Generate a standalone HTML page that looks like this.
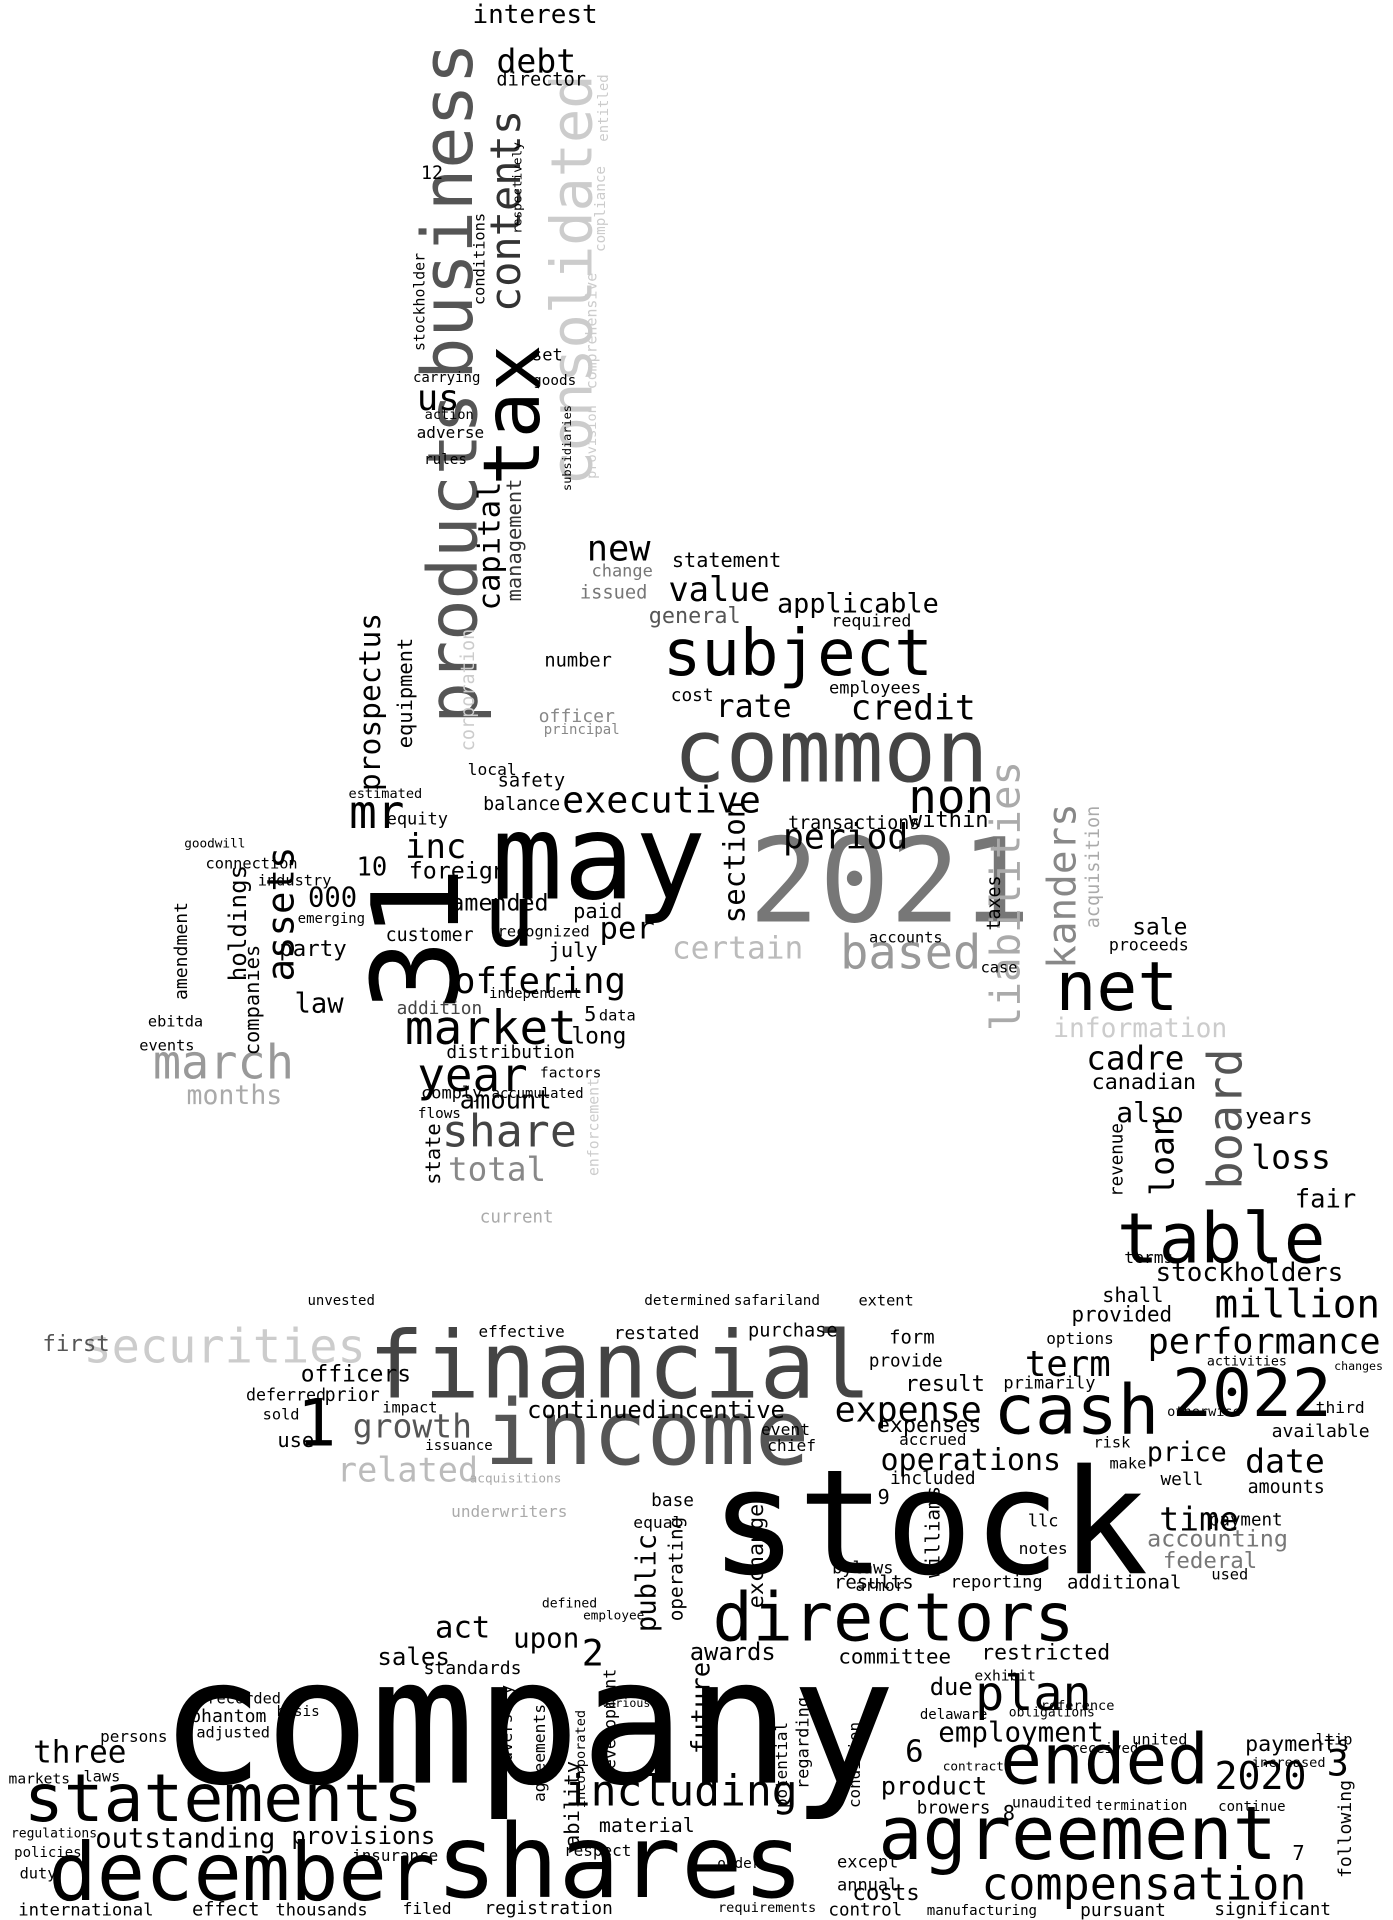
<!DOCTYPE html>
<html><head><meta charset="utf-8">
<style>
html,body{margin:0;padding:0;background:#fff;}
#cloud{position:relative;width:1393px;height:1920px;overflow:hidden;background:#fff;font-family:"DejaVu Sans Mono","Liberation Mono",monospace;}
#cloud span{position:absolute;white-space:nowrap;line-height:1;transform-origin:center center;}
</style></head>
<body>
<div id="cloud"></div>
<script>
// word, center x, center y, text length (px, display scale), color, vertical(1)
const words = [
["company",430,1405,600,"#000",0],
["stock",757,1242,357,"#000",0],
["shares",505,1518,300,"#000",0],
["agreement",878,1495,325,"#000",0],
["december",197,1525,315,"#000",0],
["statements",182,1465,325,"#000",0],
["financial",505,1113,410,"#444",0],
["income",527,1168,265,"#555",0],
["directors",728,1318,295,"#000",0],
["ended",900,1435,170,"#000",0],
["compensation",932,1535,265,"#000",0],
["including",555,1460,190,"#000",0],
["cash",877,1150,135,"#000",0],
["2022",1020,1135,130,"#000",0],
["table",995,1010,170,"#000",0],
["million",1057,1063,135,"#000",0],
["performance",1030,1093,190,"#000",0],
["net",910,805,100,"#000",0],
["2021",725,718,230,"#777",0],
["may",488,700,175,"#000",0],
["31",340,765,118,"#000",1],
["u",415,748,42,"#000",0],
["common",677,613,257,"#444",0],
["subject",650,533,220,"#000",0],
["consolidated",467,228,335,"#ccc",1],
["business",365,172,275,"#555",1],
["products",370,455,270,"#555",1],
["tax",418,338,115,"#000",1],
["contents",412,172,165,"#333",1],
["capital",400,445,105,"#000",1],
["management",419,440,100,"#333",1],
["debt",437,50,65,"#000",0],
["interest",436,12,102,"#000",0],
["director",441,66,73,"#000",0],
["us",357,325,35,"#000",0],
["prospectus",302,572,145,"#000",1],
["equipment",330,565,90,"#000",1],
["mr",307,662,45,"#000",0],
["inc",355,690,50,"#000",0],
["000",271,732,40,"#000",0],
["assets",229,745,110,"#000",1],
["holdings",194,752,95,"#000",1],
["march",182,867,115,"#999",0],
["months",191,893,78,"#aaa",0],
["market",400,838,140,"#000",0],
["year",385,877,90,"#000",0],
["share",415,922,110,"#444",0],
["total",405,953,80,"#888",0],
["offering",440,800,140,"#000",0],
["executive",539,653,162,"#000",0],
["period",689,683,102,"#000",0],
["non",775,650,70,"#000",0],
["certain",601,773,107,"#bbb",0],
["based",742,777,115,"#999",0],
["liabilities",820,730,220,"#aaa",1],
["kanders",866,722,135,"#888",1],
["value",586,481,83,"#000",0],
["new",504,447,52,"#000",0],
["statement",592,456,89,"#000",0],
["applicable",699,493,132,"#000",0],
["rate",614,577,62,"#000",0],
["credit",744,578,102,"#000",0],
["information",929,838,142,"#ccc",0],
["cadre",925,863,80,"#000",0],
["board",1000,912,115,"#555",1],
["also",937,907,55,"#000",0],
["loan",947,942,65,"#000",1],
["loss",1052,943,65,"#000",0],
["canadian",932,882,85,"#000",0],
["years",1042,910,55,"#000",0],
["fair",1080,978,50,"#000",0],
["stockholders",1018,1037,153,"#000",0],
["term",870,1112,70,"#000",0],
["price",967,1184,65,"#000",0],
["date",1047,1190,65,"#000",0],
["time",977,1238,65,"#000",0],
["operations",791,1190,147,"#000",0],
["expense",740,1150,120,"#000",0],
["growth",336,1162,97,"#555",0],
["related",332,1198,115,"#bbb",0],
["securities",183,1098,230,"#ccc",0],
["first",62,1095,55,"#555",0],
["1",258,1160,32,"#000",0],
["officers",290,1120,90,"#000",0],
["plan",842,1380,95,"#000",0],
["employment",832,1412,135,"#000",0],
["committee",729,1350,92,"#000",0],
["restricted",852,1347,105,"#000",0],
["public",527,1290,80,"#000",1],
["operating",551,1278,85,"#000",1],
["future",572,1392,75,"#000",1],
["act",377,1327,45,"#000",0],
["upon",445,1335,54,"#000",0],
["sales",337,1350,59,"#000",0],
["three",65,1428,76,"#000",0],
["outstanding",151,1498,147,"#000",0],
["provisions",296,1497,117,"#000",0],
["material",527,1488,78,"#000",0],
["costs",722,1542,55,"#000",0],
["product",761,1455,87,"#000",0],
["2020",1027,1448,75,"#000",0],
["payments",1057,1422,85,"#000",0],
["results",712,1290,65,"#000",0],
["additional",916,1290,93,"#000",0],
["accounting",992,1254,115,"#777",0],
["federal",986,1272,77,"#777",0],
["amounts",1048,1212,63,"#000",0],
["international",70,1557,110,"#000",0],
["thousands",262,1557,75,"#000",0],
["registration",447,1555,105,"#000",0],
["requirements",625,1555,80,"#000",0],
["manufacturing",800,1557,90,"#000",0],
["pursuant",915,1557,70,"#000",0],
["significant",1037,1557,95,"#000",0],
["following",1097,1490,80,"#000",1],
["effective",425,1085,70,"#000",0],
["restated",535,1087,70,"#000",0],
["purchase",646,1085,73,"#000",0],
["form",743,1090,37,"#000",0],
["continued",482,1150,105,"#000",0],
["incentive",587,1150,105,"#000",0],
["options",880,1091,55,"#000",0],
["provided",914,1071,82,"#000",0],
["shall",923,1055,50,"#000",0],
["result",770,1128,65,"#000",0],
["provide",738,1110,60,"#000",0],
["expenses",757,1162,85,"#000",0],
["primarily",855,1128,75,"#000",0],
["included",760,1205,70,"#000",0],
["amount",412,897,75,"#000",0],
["distribution",416,858,105,"#000",0],
["foreign",373,710,80,"#000",0],
["amended",407,736,80,"#000",0],
["customer",350,763,72,"#000",0],
["addition",358,822,70,"#444",0],
["equity",340,668,50,"#000",0],
["balance",425,656,63,"#000",0],
["safety",433,637,55,"#000",0],
["local",401,627,40,"#000",0],
["estimated",314,648,60,"#000",0],
["law",260,818,40,"#000",0],
["party",255,773,55,"#000",0],
["industry",240,718,60,"#000",0],
["emerging",270,749,55,"#000",0],
["companies",205,815,90,"#000",1],
["goodwill",175,688,50,"#000",0],
["connection",205,704,75,"#000",0],
["amendment",148,775,80,"#000",1],
["long",488,845,45,"#000",0],
["5",481,826,10,"#000",0],
["data",503,828,30,"#000",0],
["paid",487,742,40,"#000",0],
["per",511,758,45,"#000",0],
["july",467,774,40,"#000",0],
["recognized",443,759,75,"#000",0],
["number",471,539,55,"#000",0],
["officer",470,584,62,"#888",0],
["principal",474,595,62,"#888",0],
["issued",500,484,55,"#777",0],
["change",507,466,50,"#777",0],
["general",566,503,75,"#555",0],
["required",710,507,65,"#000",0],
["employees",713,561,75,"#000",0],
["cost",564,567,35,"#000",0],
["section",599,702,100,"#000",1],
["transactions",696,671,108,"#000",0],
["within",773,668,65,"#000",0],
["sale",945,756,45,"#000",0],
["proceeds",936,771,65,"#000",0],
["acquisition",891,706,100,"#aaa",1],
["taxes",811,736,45,"#000",1],
["accounts",738,764,60,"#000",0],
["case",814,789,30,"#000",0],
["revenue",911,945,60,"#000",1],
["terms",936,1025,40,"#000",0],
["exchange",617,1268,85,"#000",1],
["williams",760,1248,75,"#000",1],
["llc",850,1240,25,"#000",0],
["notes",850,1262,40,"#000",0],
["reporting",812,1290,75,"#000",0],
["due",775,1375,35,"#000",0],
["awards",597,1347,70,"#000",0],
["standards",385,1360,80,"#000",0],
["2",483,1348,18,"#000",0],
["incorporated",474,1433,80,"#000",1],
["agreements",440,1428,80,"#000",1],
["adversely",413,1408,70,"#000",1],
["ability",466,1470,70,"#000",1],
["phantom",186,1399,62,"#000",0],
["recorded",199,1384,60,"#000",0],
["adjusted",190,1412,60,"#000",0],
["basis",243,1395,35,"#000",0],
["persons",109,1415,55,"#000",0],
["markets",32,1450,50,"#000",0],
["laws",83,1448,30,"#000",0],
["regulations",44,1494,70,"#000",0],
["policies",39,1510,55,"#000",0],
["duty",31,1527,30,"#000",0],
["effect",184,1557,55,"#000",0],
["filed",348,1555,40,"#000",0],
["insurance",322,1512,70,"#000",0],
["respect",487,1508,55,"#000",0],
["development",497,1405,90,"#000",1],
["various",510,1388,40,"#000",0],
["potential",637,1438,70,"#000",1],
["regarding",655,1420,75,"#000",1],
["condition",697,1438,70,"#000",1],
["exhibit",819,1366,50,"#000",0],
["reference",878,1391,60,"#000",0],
["obligations",857,1396,70,"#000",0],
["delaware",777,1397,55,"#000",0],
["received",900,1425,55,"#000",0],
["united",945,1418,45,"#000",0],
["ltip",1087,1418,30,"#000",0],
["3",1090,1437,18,"#000",0],
["increased",1050,1437,60,"#000",0],
["unaudited",857,1470,65,"#000",0],
["browers",777,1474,60,"#000",0],
["termination",930,1472,75,"#000",0],
["continue",1020,1472,55,"#000",0],
["contract",793,1440,50,"#000",0],
["except",707,1518,50,"#000",0],
["annual",707,1537,50,"#000",0],
["control",705,1557,60,"#000",0],
["order",602,1519,35,"#000",0],
["employee",500,1317,50,"#000",0],
["defined",464,1307,45,"#000",0],
["6",745,1428,15,"#000",0],
["7",1058,1510,10,"#000",0],
["8",822,1477,10,"#000",0],
["9",720,1220,10,"#000",0],
["10",303,707,25,"#000",0],
["stockholder",343,246,80,"#000",1],
["conditions",391,211,75,"#000",1],
["respectively",422,153,75,"#000",1],
["carrying",364,308,55,"#000",0],
["goods",452,310,35,"#000",0],
["set",446,290,25,"#000",0],
["action",366,339,40,"#000",0],
["adverse",367,353,55,"#000",0],
["rules",363,375,35,"#000",0],
["12",352,142,18,"#000",0],
["compliance",490,170,70,"#ccc",1],
["comprehensive",482,270,95,"#ccc",1],
["provision",483,360,60,"#ccc",1],
["subsidiaries",463,365,70,"#000",1],
["corporation",382,562,100,"#ccc",1],
["entitled",492,88,55,"#ccc",1],
["enforcement",485,918,80,"#ccc",1],
["current",421,992,60,"#aaa",0],
["flows",358,908,35,"#000",0],
["state",353,940,50,"#000",1],
["factors",465,875,50,"#000",0],
["accumulated",438,892,75,"#000",0],
["comply",368,891,50,"#000",0],
["independent",436,811,75,"#000",0],
["unvested",278,1060,55,"#000",0],
["determined",560,1060,70,"#000",0],
["safariland",633,1060,70,"#000",0],
["extent",722,1060,45,"#000",0],
["events",136,852,45,"#000",0],
["ebitda",143,833,45,"#000",0],
["underwriters",415,1232,95,"#aaa",0],
["acquisitions",420,1205,75,"#aaa",0],
["use",241,1173,30,"#000",0],
["sold",229,1153,30,"#000",0],
["deferred",233,1137,65,"#000",0],
["prior",287,1137,45,"#000",0],
["impact",334,1147,45,"#000",0],
["issuance",374,1178,55,"#000",0],
["chief",645,1178,40,"#000",0],
["event",640,1165,40,"#000",0],
["risk",906,1176,30,"#000",0],
["make",919,1193,30,"#000",0],
["well",963,1206,35,"#000",0],
["available",1076,1167,80,"#000",0],
["third",1092,1147,40,"#000",0],
["activities",1016,1110,65,"#000",0],
["changes",1107,1114,40,"#000",0],
["otherwise",981,1151,60,"#000",0],
["used",1002,1283,30,"#000",0],
["payment",1015,1239,60,"#000",0],
["accrued",760,1173,55,"#000",0],
["armor",717,1292,40,"#000",0],
["bylaws",703,1278,50,"#000",0],
["equal",536,1241,40,"#000",0],
["base",548,1223,35,"#000",0]
];

const S = 1393/1135;
const cloud = document.getElementById('cloud');
for (const w of words) {
  const text = w[0], cx = w[1], cy = w[2], len = w[3], color = w[4], vert = w[5];
  if (len <= 0) continue;
  const fs = len / (text.length * 0.602) * S;
  const el = document.createElement('span');
  el.textContent = text;
  
  
  el.style.fontSize = fs.toFixed(1) + 'px';
  el.style.color = color;
  el.style.left = (cx * S).toFixed(1) + 'px';
  el.style.top = (cy * S).toFixed(1) + 'px';
  el.style.transform = 'translate(-50%,-50%)' + (vert ? ' rotate(-90deg)' : '');
  cloud.appendChild(el);
}
</script>
</body></html>
